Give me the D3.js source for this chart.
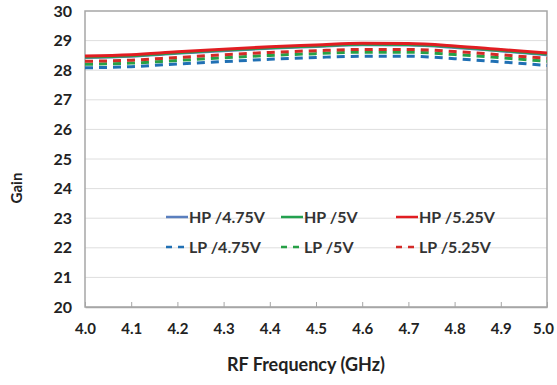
<!DOCTYPE html>
<html><head><meta charset="utf-8">
<script src="https://cdn.jsdelivr.net/npm/d3@7"></script>
<style>body{margin:0;background:#fff}svg{display:block}text{font-family:Lato,"Open Sans",sans-serif;font-weight:bold}</style>
</head><body><svg id="c" width="557" height="385"></svg>
<script>
const freq = [4.0,4.1,4.2,4.3,4.4,4.5,4.6,4.7,4.8,4.9,5.0];
const hp475 = [28.43,28.47,28.57,28.66,28.74,28.80,28.86,28.85,28.77,28.65,28.52];
const hp5   = [28.45,28.49,28.59,28.68,28.76,28.82,28.88,28.87,28.79,28.67,28.55];
const hp525 = [28.48,28.52,28.62,28.71,28.79,28.85,28.91,28.90,28.82,28.70,28.58];
const lp475 = [28.08,28.12,28.21,28.29,28.37,28.43,28.47,28.47,28.39,28.28,28.16];
const lp5   = [28.20,28.24,28.33,28.42,28.50,28.56,28.61,28.61,28.53,28.42,28.30];
const lp525 = [28.30,28.34,28.43,28.52,28.60,28.66,28.70,28.70,28.63,28.52,28.40];
const yTicks = [20,21,22,23,24,25,26,27,28,29,30];
const seriesNames = ["HP /4.75V","HP /5V","HP /5.25V","LP /4.75V","LP /5V","LP /5.25V"];

const series = [
  {name:seriesNames[0], v:hp475, c:"#5a7fbe", dash:null},
  {name:seriesNames[1], v:hp5,   c:"#23a14f", dash:null},
  {name:seriesNames[2], v:hp525, c:"#e11d22", dash:null},
  {name:seriesNames[3], v:lp475, c:"#2070b4", dash:"8,6"},
  {name:seriesNames[4], v:lp5,   c:"#27a046", dash:"8,6"},
  {name:seriesNames[5], v:lp525, c:"#d42a27", dash:"8,6"}
];
const drawOrder = [3,4,5,0,1,2];

const svg = d3.select("#c");
const L=85,R=547,T=11,B=307;
const x = d3.scaleLinear().domain([4.0,5.0]).range([L,R]);
const y = d3.scaleLinear().domain([20,30]).range([B,T]);

svg.append("g").selectAll("line").data(yTicks.slice(1,-1)).join("line")
  .attr("x1",L).attr("x2",R).attr("y1",d=>y(d)).attr("y2",d=>y(d))
  .attr("stroke","#dedede").attr("stroke-width",1);
svg.append("rect").attr("x",L).attr("y",T).attr("width",R-L).attr("height",B-T)
  .attr("fill","none").attr("stroke","#a6a6a6").attr("stroke-width",1.5);

const xa = svg.append("g").attr("transform",`translate(0,${B})`)
  .call(d3.axisBottom(x).tickValues(freq).tickFormat(d3.format(".1f")).tickSizeInner(-5).tickSizeOuter(0).tickPadding(16));
xa.select(".domain").attr("stroke","#a6a6a6").attr("stroke-width",1.5);
xa.selectAll(".tick line").attr("stroke","#a6a6a6");
xa.selectAll("text").attr("font-size",15).attr("fill","#222");
xa.selectAll(".tick:last-of-type text").attr("dx","-4");

const ya = svg.append("g").attr("transform",`translate(${L},0)`)
  .call(d3.axisLeft(y).tickValues(yTicks).tickSize(0).tickPadding(13));
ya.select(".domain").remove();
ya.selectAll("text").attr("font-size",16).attr("fill","#222");

const line = d3.line().x((d,i)=>x(freq[i])).y(d=>y(d)).curve(d3.curveMonotoneX);
svg.append("g").selectAll("path").data(drawOrder.map(i=>series[i])).join("path")
  .attr("d",d=>line(d.v)).attr("fill","none").attr("stroke",d=>d.c)
  .attr("stroke-width",3).attr("stroke-dasharray",d=>d.dash);

const legX=[166,281,396], legY=[217,247];
const lg = svg.append("g").selectAll("g").data(series).join("g")
  .attr("transform",(d,i)=>`translate(${legX[i%3]},${legY[Math.floor(i/3)]})`);
lg.append("line").attr("x1",0).attr("x2",22).attr("y1",0).attr("y2",0)
  .attr("stroke",d=>d.c).attr("stroke-width",2.5).attr("stroke-dasharray",d=>d.dash?"6,6":null);
lg.append("text").attr("x",23).attr("dy","0.35em").attr("font-size",16).attr("fill","#333").text(d=>d.name);

svg.append("text").attr("x",(L+R)/2-10).attr("y",371).attr("text-anchor","middle").attr("font-size",18).attr("fill","#222").text("RF Frequency (GHz)");
svg.append("text").attr("transform","translate(22,188) rotate(-90)").attr("text-anchor","middle").attr("font-size",15).attr("fill","#222").text("Gain");
</script></body></html>
